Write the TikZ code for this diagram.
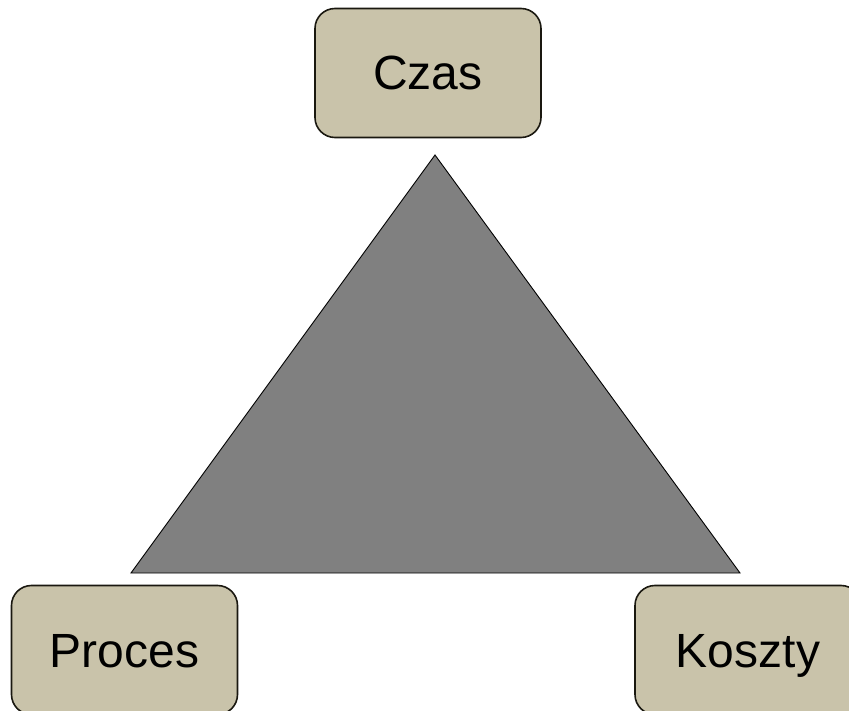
\documentclass[tikz,border=0pt]{standalone}
\usepackage{fontspec}
\setmainfont{Liberation Sans}
\definecolor{boxfill}{RGB}{201,195,170}
\definecolor{boxline}{RGB}{26,24,16}
\definecolor{trifill}{RGB}{128,128,128}
\begin{document}
\begin{tikzpicture}[x=1pt,y=-1pt,
  box/.style={draw=boxline,fill=boxfill,line width=1.6pt,rounded corners=20pt,
    minimum width=226pt,minimum height=129pt,inner sep=0pt,
    text height=34pt,text depth=0pt,
    font=\fontsize{48}{56}\selectfont,text=black}]
\useasboundingbox (0,0) rectangle (849,711);
\clip (0,0) rectangle (849,711);
\fill[white] (0,0) rectangle (849,711);
\coordinate (apex) at (435,155);
\coordinate (bl) at (131,573);
\coordinate (br) at (740,573);
\draw[fill=trifill,draw=black,line width=0.9pt,line join=miter] (apex) -- (bl) -- (br) -- cycle;
\node[box] (czas) at (428,73) {Czas};
\node[box] (proces) at (124.5,650) {Proces};
\node[box] (koszty) at (748,650) {Koszty};
\end{tikzpicture}
\end{document}
